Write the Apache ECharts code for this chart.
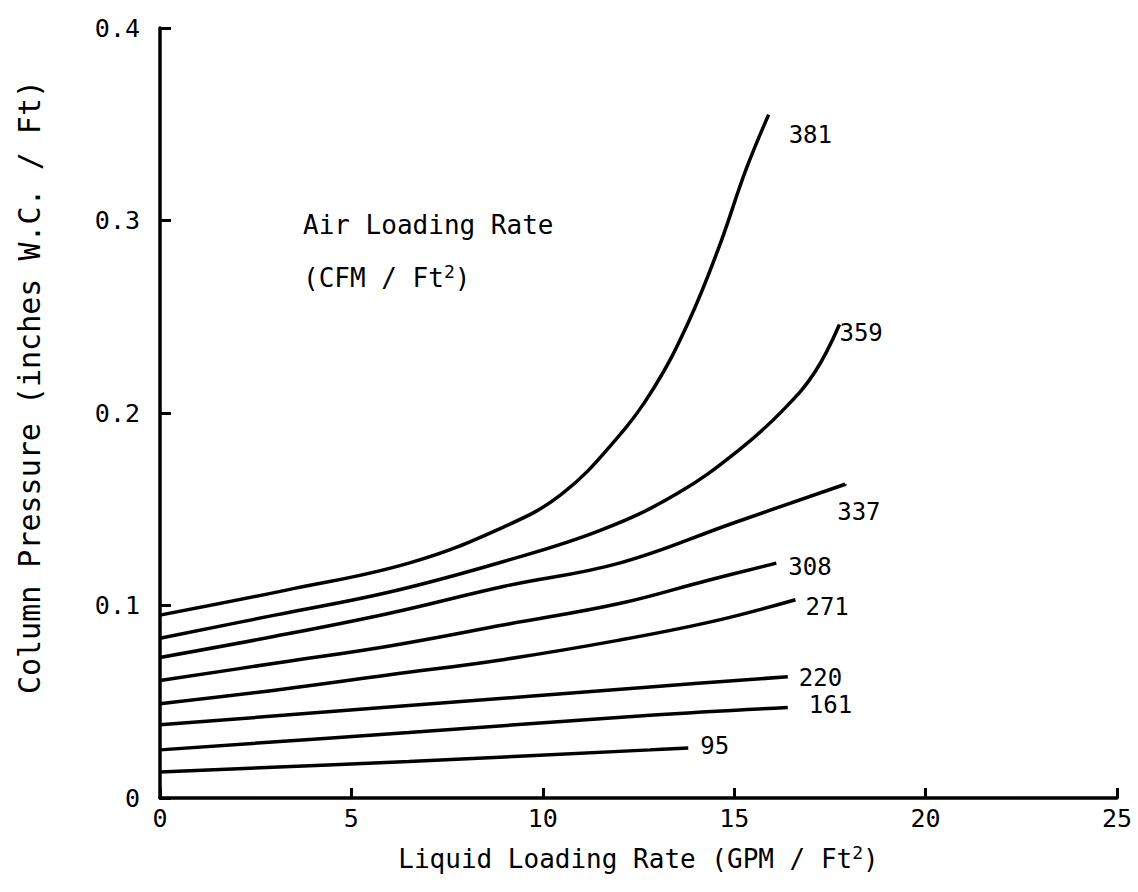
<!DOCTYPE html>
<html>
<head>
<meta charset="utf-8">
<script src="https://cdn.jsdelivr.net/npm/echarts@6/dist/echarts.min.js"></script>
<style>html,body{margin:0;padding:0;background:#fff}#chart{width:1138px;height:892px}</style>
</head>
<body>
<div id="chart"></div>
<script>
// ---- data ----
const xTickValues = [0, 5, 10, 15, 20, 25];
const yTickValues = [0, 0.1, 0.2, 0.3, 0.4];
const airRates = ['381', '359', '337', '308', '271', '220', '161', '95'];

const liquid381 = [0, 3.3, 6.5, 9, 10.5, 11.9, 12.9, 13.8, 14.6, 15.3, 15.9];
const press381  = [0.095, 0.108, 0.122, 0.141, 0.158, 0.186, 0.213, 0.247, 0.286, 0.326, 0.355];

const liquid359 = [0, 3, 6, 9, 11.5, 13.5, 15.2, 16.3, 17.1, 17.75];
const press359  = [0.083, 0.095, 0.107, 0.123, 0.139, 0.158, 0.182, 0.202, 0.221, 0.246];

const liquid337 = [0, 3, 6, 9, 12, 15, 17.9];
const press337  = [0.073, 0.084, 0.096, 0.110, 0.122, 0.143, 0.163];

const liquid308 = [0, 3, 6, 9, 12, 14.3, 16.1];
const press308  = [0.061, 0.070, 0.079, 0.090, 0.101, 0.113, 0.122];

const liquid271 = [0, 3, 6, 9, 12, 14.5, 16.6];
const press271  = [0.049, 0.056, 0.064, 0.072, 0.082, 0.092, 0.103];

const liquid220 = [0, 6.5, 12.8, 16.4];
const press220  = [0.038, 0.048, 0.0577, 0.063];

const liquid161 = [0, 6.5, 12.8, 16.4];
const press161  = [0.025, 0.034, 0.043, 0.047];

const liquid95 = [0, 6.5, 12.8, 13.8];
const press95  = [0.0135, 0.019, 0.025, 0.026];

const curveX = [liquid381, liquid359, liquid337, liquid308, liquid271, liquid220, liquid161, liquid95];
const curveY = [press381, press359, press337, press308, press271, press220, press161, press95];

// ---- styling ----
const FONT = '"DejaVu Sans Mono", "Liberation Mono", monospace';
const labelOffsets = [[12, 20], [-8, 9], [-16, 28], [4, 4], [2, 7], [3, 1], [13, -3], [4, -2]];

const chart = echarts.init(document.getElementById('chart'), null, {renderer: 'svg'});

const series = airRates.map((name, i) => ({
  name: name,
  type: 'line',
  data: curveX[i].map((x, j) => [x, curveY[i][j]]),
  smooth: 0.4,
  showSymbol: false,
  symbol: 'none',
  lineStyle: {color: '#000', width: 3.5},
  endLabel: {
    show: true,
    formatter: name,
    color: '#000',
    fontFamily: FONT,
    fontSize: 24,
    lineHeight: 22,
    offset: labelOffsets[i]
  },
  animation: false
}));

chart.setOption({
  animation: false,
  backgroundColor: '#fff',
  grid: {left: 160, right: 21, top: 28, bottom: 94, containLabel: false},
  xAxis: {
    type: 'value', min: xTickValues[0], max: xTickValues[xTickValues.length - 1], interval: 5,
    axisLine: {show: true, lineStyle: {color: '#000', width: 3.5}},
    axisTick: {show: true, inside: true, length: 10, lineStyle: {color: '#000', width: 3}},
    axisLabel: {color: '#000', fontFamily: FONT, fontSize: 25, margin: 8},
    splitLine: {show: false},
    name: '{t|Liquid Loading Rate (GPM / Ft}{s|2}{t|)}',
    nameLocation: 'middle',
    nameGap: 45,
    nameTextStyle: {
      rich: {
        t: {fontFamily: FONT, fontSize: 26, color: '#000'},
        s: {fontFamily: FONT, fontSize: 18, color: '#000', padding: [0, 0, 14, 0]}
      }
    }
  },
  yAxis: {
    type: 'value', min: yTickValues[0], max: yTickValues[yTickValues.length - 1], interval: 0.1,
    axisLine: {show: true, lineStyle: {color: '#000', width: 3.5}},
    axisTick: {show: true, inside: true, length: 11, lineStyle: {color: '#000', width: 3}},
    axisLabel: {color: '#000', fontFamily: FONT, fontSize: 25, margin: 20,
      formatter: v => (v === 0 ? '0' : v.toFixed(1))},
    splitLine: {show: false}
  },
  graphic: [
    {
      type: 'text', left: 14, top: 80, rotation: Math.PI / 2,
      style: {text: 'Column Pressure (inches W.C. / Ft)', fontFamily: FONT, fontSize: 30, fill: '#000'},
      originX: 0, originY: 0
    },
    {
      type: 'text', left: 303, top: 212,
      style: {text: 'Air Loading Rate', fontFamily: FONT, fontSize: 26, fill: '#000'}
    },
    {
      type: 'text', left: 303, top: 262,
      style: {
        text: '{t|(CFM / Ft}{s|2}{t|)}',
        rich: {
          t: {fontFamily: FONT, fontSize: 26, fill: '#000', color: '#000'},
          s: {fontFamily: FONT, fontSize: 18, fill: '#000', color: '#000', padding: [0, 0, 13, 0]}
        }
      }
    }
  ],
  series: series
});
</script>
</body>
</html>
